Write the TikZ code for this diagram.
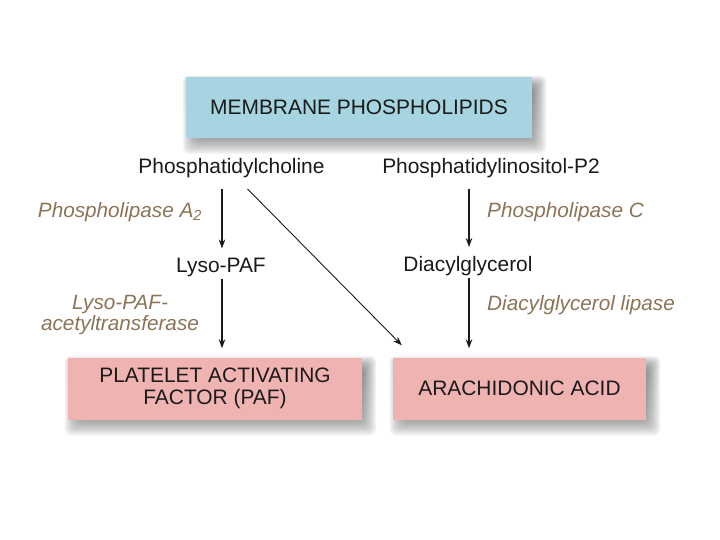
\documentclass[tikz,border=0pt]{standalone}
\usepackage{fontspec}
\setmainfont{Liberation Sans}
\usetikzlibrary{arrows.meta,calc}
\definecolor{boxblue}{HTML}{A6D4E0}
\definecolor{boxpink}{HTML}{EFB4B2}
\definecolor{enz}{HTML}{8E7456}
\definecolor{shade}{HTML}{4E6470}
\definecolor{ink}{HTML}{1A1A1A}
\pgfdeclarelayer{bg}
\pgfdeclarelayer{shadowlayer}
\pgfsetlayers{bg,shadowlayer,main}
\newcommand{\softshadow}[1]{%
  \begin{pgfonlayer}{shadowlayer}
  \foreach \e in {-9,-7.5,...,9}{
    \fill[shade,opacity=0.045,rounded corners=6bp] ($(#1.north west)+(6-\e,8-\e)$) rectangle ($(#1.south east)+(5+\e,7+\e)$);
  }
  \end{pgfonlayer}}
\tikzset{
  every node/.style={font=\fontsize{21}{22.5}\selectfont, text=ink},
  bigbox/.style={draw=none, inner sep=0pt, minimum height=62bp, align=center},
  compound/.style={inner sep=0pt},
  enzyme/.style={inner sep=0pt, text=enz, font=\fontsize{20.8}{22}\selectfont\itshape, align=center},
  arr/.style={draw=ink, line width=1.1pt, -{Stealth[length=9bp,width=6.5bp]}}
}
\begin{document}
\begin{tikzpicture}[x=1bp,y=-1bp]
\begin{pgfonlayer}{bg}
\fill[white] (0,0) rectangle (720,540);
\end{pgfonlayer}
\useasboundingbox (0,0) rectangle (720,540);

\node[bigbox, fill=boxblue, minimum width=346bp, minimum height=61bp] (mp) at (359,107.5) {MEMBRANE PHOSPHOLIPIDS};
\node[bigbox, fill=boxpink, minimum width=294bp] (paf) at (215,388.5) {PLATELET ACTIVATING\\FACTOR (PAF)};
\node[bigbox, fill=boxpink, minimum width=253bp] (aa) at (519.5,388.5) {ARACHIDONIC ACID};
\softshadow{mp}
\softshadow{paf}
\softshadow{aa}

\node[compound] (pc) at (231.5,168) {Phosphatidylcholine};
\node[compound] (pip) at (491,168) {Phosphatidylinositol-P2};
\node[compound] (lyso) at (221,267) {Lyso-PAF};
\node[compound] (dag) at (468,266) {Diacylglycerol};

\node[enzyme] (pla) at (120,212) {Phospholipase A\textsubscript{2}};
\node[enzyme, anchor=west] (plc) at (487,212) {Phospholipase C};
\node[enzyme] (lpat) at (120,315) {Lyso-PAF-\\acetyltransferase};
\node[enzyme, anchor=west] (dagl) at (487,305) {Diacylglycerol lipase};

\draw[arr] ($(pc.south -| lyso.north)+(1,11)$) -- ($(lyso.north)+(1,-9)$);
\draw[arr] ($(lyso.south)+(1,2)$) -- ($(lyso.south |- paf.north)+(1,-9)$);
\draw[arr] ($(pip.south -| dag.north)+(1,11)$) -- ($(dag.north)+(1,-9)$);
\draw[arr] ($(dag.south)+(1,2)$) -- ($(dag.south |- aa.north)+(1,-9)$);
\draw[ink, line width=0.9pt, -{Stealth[length=9bp,width=6.5bp]}] ($(pc.south)+(16,11)$) -- ($(aa.north west)+(9,-12)$);
\end{tikzpicture}
\end{document}
